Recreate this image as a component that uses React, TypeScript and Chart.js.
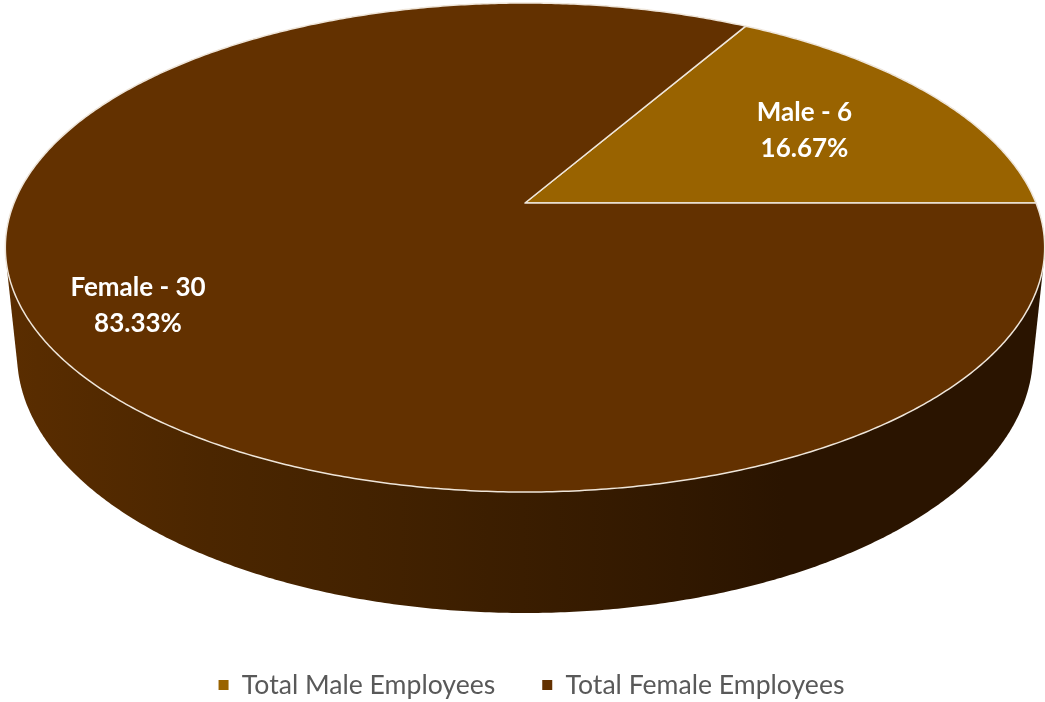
import React, { useEffect, useRef } from "react";
import { Chart, registerables } from "chart.js";

Chart.register(...registerables);

const legendNames = ["Total Male Employees", "Total Female Employees"];
const sliceNames = ["Male", "Female"];
const employeeCounts = [6, 30];
const sliceColors = ["#996300", "#633100"];
const labelReach = [0.67, 0.81];
const labelNudge = [0, -2.5];

// Perspective of the disc's upper face: the centre sits above the middle of the ellipse.
const face = { x: 525, y: 203, a: 511, b: 236.4, tilt: 0.182 };
// Lower rim of the disc.
const rim = { x: 525, y: 354, a: 508, b: 259 };
// Where the legend row sits.
const legendMiddle = 685;
const legendOffsetX = 9;

const wallStops: [number, string][] = [
  [0.01, "#5a2d00"],
  [0.2, "#4b2600"],
  [0.35, "#432200"],
  [0.5, "#3a1d00"],
  [0.65, "#311800"],
  [0.75, "#2a1400"],
  [1, "#2a1400"],
];

type Pt = [number, number];

function project(angle: number, r = 1): Pt {
  const u = Math.cos(angle) * r;
  const v = Math.sin(angle) * r;
  const w = 1 - face.tilt * v;
  return [face.x + (face.a * u) / w, face.y + (face.b * v) / w];
}

function convexHull(points: Pt[]): Pt[] {
  const sorted = [...points].sort((p, q) => p[0] - q[0] || p[1] - q[1]);
  const cross = (o: Pt, p: Pt, q: Pt) =>
    (p[0] - o[0]) * (q[1] - o[1]) - (p[1] - o[1]) * (q[0] - o[0]);
  const half = (list: Pt[]) => {
    const out: Pt[] = [];
    for (const p of list) {
      while (out.length > 1 && cross(out[out.length - 2], out[out.length - 1], p) <= 0) out.pop();
      out.push(p);
    }
    out.pop();
    return out;
  };
  return [...half(sorted), ...half(sorted.reverse())];
}

const discPlugin = {
  id: "disc",
  afterLayout(chart: any) {
    // The legend's item gap also sets its vertical padding, so slide the box into place.
    const legend = chart.legend;
    const { padding, font } = legend.options.labels;
    const shift = legendMiddle - (legend.top + padding + font.size / 2);
    legend.top += shift;
    legend.bottom += shift;
    legend.left += legendOffsetX;
    legend.right += legendOffsetX;
  },
  beforeDatasetDraw(chart: any) {
    const ctx = chart.ctx as CanvasRenderingContext2D;
    const arcs = chart.getDatasetMeta(0).data;
    const steps = 720;
    const outline: Pt[] = [];
    for (let i = 0; i < steps; i++) {
      const t = (i / steps) * Math.PI * 2;
      outline.push(project(t));
      outline.push([rim.x + rim.a * Math.cos(t), rim.y + rim.b * Math.sin(t)]);
    }

    // Side wall, shaded from left to right.
    const shade = ctx.createLinearGradient(0, 0, chart.width, 0);
    wallStops.forEach(([at, color]) => shade.addColorStop(at, color));
    ctx.save();
    ctx.beginPath();
    convexHull(outline).forEach((p, i) => (i ? ctx.lineTo(p[0], p[1]) : ctx.moveTo(p[0], p[1])));
    ctx.closePath();
    ctx.fillStyle = shade;
    ctx.fill();

    // Upper face: each slice takes its sweep from the pie controller.
    arcs.forEach((arc: any, index: number) => {
      ctx.beginPath();
      ctx.moveTo(face.x, face.y);
      const count = Math.max(2, Math.ceil((arc.endAngle - arc.startAngle) / (Math.PI / 360)));
      for (let i = 0; i <= count; i++) {
        const p = project(arc.startAngle + ((arc.endAngle - arc.startAngle) * i) / count);
        ctx.lineTo(p[0], p[1]);
      }
      ctx.closePath();
      ctx.fillStyle = sliceColors[index];
      ctx.fill();
      ctx.strokeStyle = "#efe6da";
      ctx.lineWidth = 1.5;
      ctx.lineJoin = "round";
      ctx.stroke();
    });

    // Value and share written on each slice.
    const total = employeeCounts.reduce((sum, n) => sum + n, 0);
    ctx.fillStyle = "#ffffff";
    ctx.font = "bold 26px Lato";
    ctx.textAlign = "center";
    ctx.textBaseline = "middle";
    arcs.forEach((arc: any, index: number) => {
      const [x, y] = project((arc.startAngle + arc.endAngle) / 2, labelReach[index]);
      const share = ((employeeCounts[index] / total) * 100).toFixed(2);
      ctx.fillText(`${sliceNames[index]} - ${employeeCounts[index]}`, x, y - 16 + labelNudge[index]);
      ctx.fillText(`${share}%`, x, y + 20 + labelNudge[index]);
    });
    ctx.restore();
    return false;
  },
};

export default function App() {
  const canvasRef = useRef<HTMLCanvasElement>(null);

  useEffect(() => {
    const chart = new Chart(canvasRef.current!, {
      type: "pie",
      data: {
        labels: legendNames,
        datasets: [{ data: employeeCounts, backgroundColor: sliceColors, borderWidth: 0 }],
      },
      options: {
        responsive: false,
        animation: false,
        rotation: 30,
        plugins: {
          tooltip: { enabled: false },
          legend: {
            position: "bottom",
            labels: {
              boxWidth: 10,
              boxHeight: 10,
              padding: 47,
              color: "#595959",
              font: { family: "Lato", size: 26.6 },
            },
          },
        },
      },
      plugins: [discPlugin],
    });
    return () => chart.destroy();
  }, []);

  return (
    <div style={{ position: "absolute", left: 0, top: 0, width: 1045, height: 702, background: "#ffffff" }}>
      <canvas ref={canvasRef} width={1045} height={702} style={{ display: "block" }} />
    </div>
  );
}
